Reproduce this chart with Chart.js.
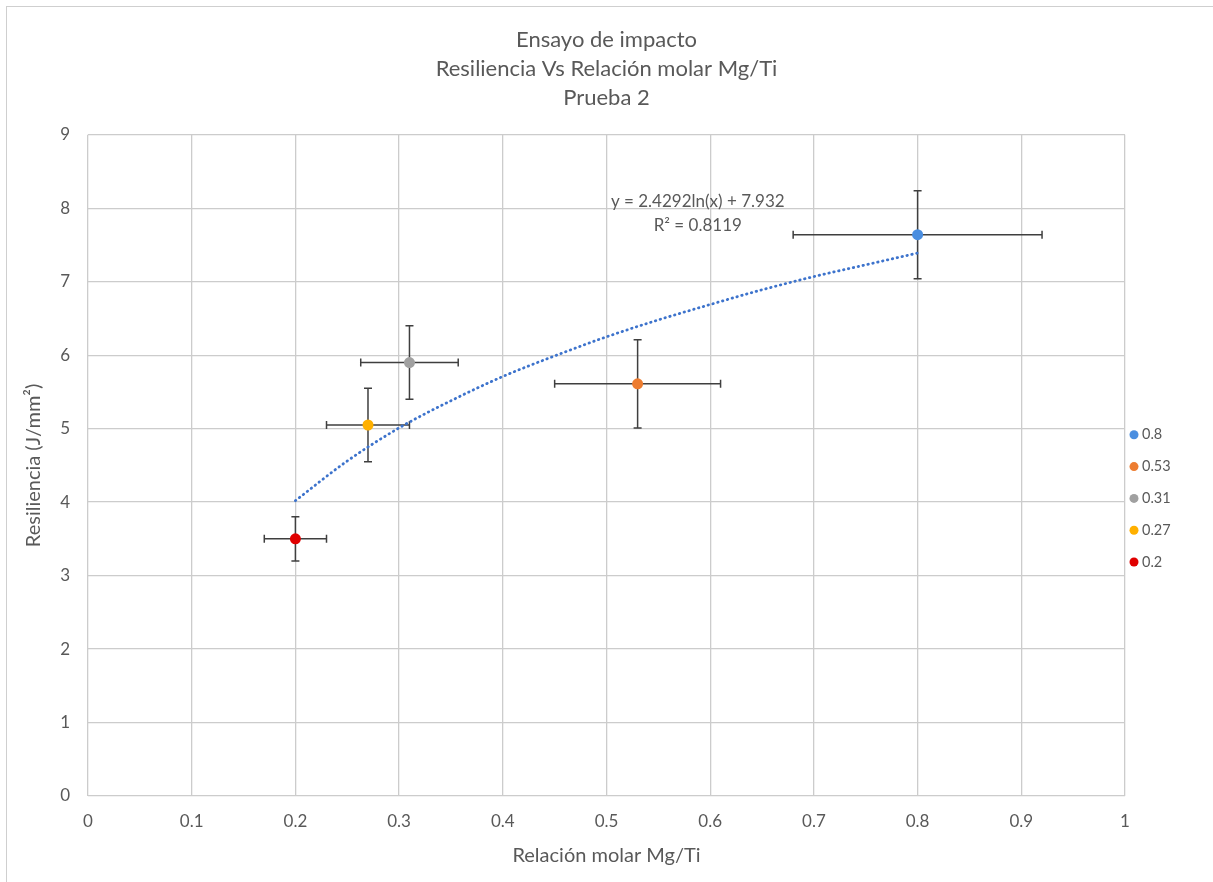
<!DOCTYPE html>
<html>
<head>
<meta charset="utf-8">
<script src="https://cdn.jsdelivr.net/npm/chart.js@4"></script>
<style>
  body { margin: 0; background: #fff; }
  #wrap { position: relative; width: 1213px; height: 882px; overflow: hidden; }
  #frame { position: absolute; left: 6px; top: 6px; width: 1220px; height: 900px; border: 1px solid #cfcfcf; pointer-events: none; }
</style>
</head>
<body>
<div id="wrap">
  <canvas id="chart" width="1213" height="882"></canvas>
  <div id="frame"></div>
</div>
<script>
// Mg/Ti molar ratio of each sample and its measured resilience
const ratios = [0.8, 0.53, 0.31, 0.27, 0.2];
const resiliencia = [7.64, 5.61, 5.9, 5.05, 3.5];
const errX = [0.12, 0.08, 0.047, 0.04, 0.03];
const errY = [0.6, 0.6, 0.5, 0.5, 0.3];
const labels = ['0.8', '0.53', '0.31', '0.27', '0.2'];

// log trendline
const trendX = [0.2, 0.25, 0.3, 0.35, 0.4, 0.45, 0.5, 0.55, 0.6, 0.65, 0.7, 0.75, 0.8];
const trendY = [4.02, 4.56, 5.01, 5.38, 5.71, 5.99, 6.25, 6.48, 6.69, 6.89, 7.07, 7.23, 7.39];
const equation = ['y = 2.4292ln(x) + 7.932', 'R² = 0.8119'];

const colors = ['#4a8ee0', '#ed7d31', '#a0a0a0', '#ffb000', '#e00000'];
const textColor = '#595959';
const fontFamily = 'Lato, "Open Sans", sans-serif';

const datasets = ratios.map((r, i) => ({
    label: labels[i],
    data: [{ x: r, y: resiliencia[i] }],
    backgroundColor: colors[i],
    borderColor: colors[i],
    pointRadius: 5.5,
    pointHoverRadius: 5.5,
    borderWidth: 0
}));

datasets.push({
    label: 'trend',
    type: 'line',
    data: trendX.map((x, i) => ({ x: x, y: trendY[i] })),
    borderColor: '#3d73cc',
    borderWidth: 2.8,
    borderDash: [0.5, 4.5],
    borderCapStyle: 'round',
    pointRadius: 0,
    cubicInterpolationMode: 'monotone',
    fill: false
});

const errorBars = {
    id: 'errorBars',
    beforeDatasetsDraw(chart) {
        const { ctx, scales: { x, y } } = chart;
        ctx.save();
        ctx.strokeStyle = '#3f3f3f';
        ctx.lineWidth = 1.5;
        ratios.forEach((r, i) => {
            const px = x.getPixelForValue(r);
            const py = y.getPixelForValue(resiliencia[i]);
            const x0 = x.getPixelForValue(r - errX[i]);
            const x1 = x.getPixelForValue(r + errX[i]);
            const y0 = y.getPixelForValue(resiliencia[i] + errY[i]);
            const y1 = y.getPixelForValue(resiliencia[i] - errY[i]);
            ctx.beginPath();
            ctx.moveTo(x0, py); ctx.lineTo(x1, py);
            ctx.moveTo(x0, py - 4); ctx.lineTo(x0, py + 4);
            ctx.moveTo(x1, py - 4); ctx.lineTo(x1, py + 4);
            ctx.moveTo(px, y0); ctx.lineTo(px, y1);
            ctx.moveTo(px - 4, y0); ctx.lineTo(px + 4, y0);
            ctx.moveTo(px - 4, y1); ctx.lineTo(px + 4, y1);
            ctx.stroke();
        });
        ctx.restore();
    }
};

const extras = {
    id: 'extras',
    afterDraw(chart) {
        const { ctx, chartArea, scales: { x, y } } = chart;
        ctx.save();
        // trendline label
        ctx.fillStyle = textColor;
        ctx.font = '17px ' + fontFamily;
        ctx.textAlign = 'center';
        ctx.textBaseline = 'middle';
        ctx.fillText(equation[0], x.getPixelForValue(0.588), y.getPixelForValue(8.09));
        ctx.fillText(equation[1], x.getPixelForValue(0.588), y.getPixelForValue(7.76));
        // legend on the right
        ctx.font = '14.5px ' + fontFamily;
        ctx.textAlign = 'left';
        labels.forEach((lab, i) => {
            const cy = chartArea.top + 300 + i * 31.8;
            ctx.fillStyle = colors[i];
            ctx.beginPath();
            ctx.arc(chartArea.right + 9, cy, 4.5, 0, Math.PI * 2);
            ctx.fill();
            ctx.fillStyle = textColor;
            ctx.fillText(lab, chartArea.right + 17, cy);
        });
        ctx.restore();
    }
};

new Chart(document.getElementById('chart'), {
    type: 'scatter',
    data: { datasets: datasets },
    options: {
        responsive: false,
        animation: false,
        layout: { padding: { left: 22, right: 88, top: 0, bottom: 0 } },
        plugins: {
            legend: { display: false },
            tooltip: { enabled: false },
            title: {
                display: true,
                fullSize: false,
                text: ['Ensayo de impacto', 'Resiliencia Vs Relación molar Mg/Ti', 'Prueba 2'],
                color: textColor,
                font: { family: fontFamily, size: 22, weight: 'normal', lineHeight: 1.3 },
                padding: { top: 26, bottom: 23 }
            }
        },
        scales: {
            x: {
                min: 0,
                max: 1,
                ticks: {
                    stepSize: 0.1,
                    color: textColor,
                    padding: 15,
                    font: { family: fontFamily, size: 17 },
                    callback: v => String(Number(v.toFixed(1)))
                },
                grid: { color: '#cccccc', lineWidth: 1.3, drawTicks: false },
                border: { display: false },
                title: {
                    display: true,
                    text: 'Relación molar Mg/Ti',
                    color: textColor,
                    font: { family: fontFamily, size: 20 },
                    padding: { top: 8, bottom: 14 }
                },
                afterFit: s => { s.height = 86; }
            },
            y: {
                min: 0,
                max: 9,
                ticks: {
                    stepSize: 1,
                    color: textColor,
                    padding: 18,
                    font: { family: fontFamily, size: 17 }
                },
                grid: { color: '#cccccc', lineWidth: 1.3, drawTicks: false },
                border: { display: false },
                title: {
                    display: true,
                    text: 'Resiliencia (J/mm²)',
                    color: textColor,
                    font: { family: fontFamily, size: 20 },
                    padding: { top: 0, bottom: 4 }
                },
                afterFit: s => { s.width = 66; }
            }
        }
    },
    plugins: [errorBars, extras]
});
</script>
</body>
</html>
